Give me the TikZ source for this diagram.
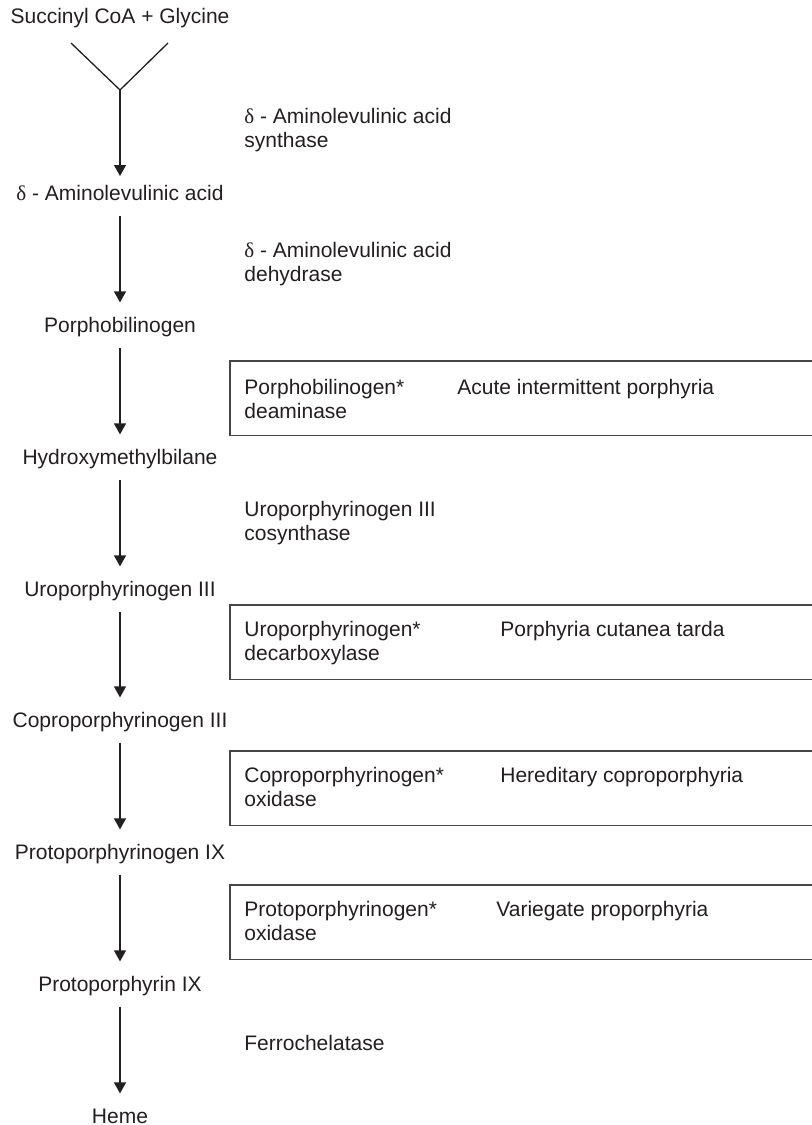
\documentclass[tikz,border=0pt]{standalone}
\usepackage{fontspec}
\setmainfont{Liberation Sans}
\newfontfamily\greekserif{Liberation Serif}
\usetikzlibrary{arrows.meta}
\definecolor{ink}{RGB}{35,31,32}
\definecolor{frame}{RGB}{70,70,70}
\newcommand{\dlt}{{\greekserif δ}}

\begin{document}
\begin{tikzpicture}[x=0.5pt,y=-0.5pt,>={Triangle[length=5.5pt,width=6pt]},
  every node/.style={font=\fontsize{10.5}{12.3}\selectfont, text=ink, inner sep=0pt},
  compound/.style={text height=0.72em, text depth=0pt, inner ysep=7.5pt},
  enzyme/.style={anchor=north west, align=left},
  defect/.style={draw=frame, line width=0.75pt, anchor=north west, minimum width=300pt, minimum height=37.25pt},
  flow/.style={ink, line width=0.65pt, ->}]

\useasboundingbox (0,0) rectangle (812,1125);
\clip (0,0) rectangle (812,1125);

\node (succ) at (120,18) {Succinyl CoA + Glycine};
\coordinate (vl) at (71,43);
\coordinate (vr) at (168,43);
\coordinate (join) at (120,90);
\draw[ink, line width=0.65pt] (vl) -- (join) -- (vr);

\node[compound] (ala) at (120,193) {\dlt{} - Aminolevulinic acid};
\node[compound] (pbg) at (120,325) {Porphobilinogen};
\node[compound] (hmb) at (120,457) {Hydroxymethylbilane};
\node[compound] (uro) at (120,589) {Uroporphyrinogen III};
\node[compound] (copro) at (120,720) {Coproporphyrinogen III};
\node[compound] (protogen) at (120,852) {Protoporphyrinogen IX};
\node[compound] (proto) at (120,984) {Protoporphyrin IX};
\node[compound] (heme) at (120,1116) {Heme};

\draw[flow] (join) -- ([yshift=-2.8pt]ala.north);
\foreach \from/\to in {ala/pbg, pbg/hmb, hmb/uro, uro/copro, copro/protogen, protogen/proto, proto/heme}
  \draw[flow] (\from) -- (\to);

\node[enzyme] (alas) at (244,107.5) {\dlt{} - Aminolevulinic acid\\synthase};
\node[enzyme] (alad) at (244,241.5) {\dlt{} - Aminolevulinic acid\\dehydrase};
\node[enzyme] (cosyn) at (244,500.5) {Uroporphyrinogen III\\cosynthase};
\node[enzyme] (ferro) at (244,1034.5) {Ferrochelatase};

\node[defect] (deambox) at (229,360) {};
\node[enzyme] (deam) at (244,378.5) {Porphobilinogen*\\deaminase};
\node[enzyme] (aip) at (457,378.5) {Acute intermittent porphyria};

\node[defect] (decarbbox) at (229,604) {};
\node[enzyme] (decarb) at (244,620.5) {Uroporphyrinogen*\\decarboxylase};
\node[enzyme] (pct) at (500,620.5) {Porphyria cutanea tarda};

\node[defect] (coxbox) at (229,750) {};
\node[enzyme] (cox) at (244,766.5) {Coproporphyrinogen*\\oxidase};
\node[enzyme] (hcp) at (500,766.5) {Hereditary coproporphyria};

\node[defect] (poxbox) at (229,884) {};
\node[enzyme] (pox) at (244,900.5) {Protoporphyrinogen*\\oxidase};
\node[enzyme] (vp) at (496,900.5) {Variegate proporphyria};
\end{tikzpicture}
\end{document}
